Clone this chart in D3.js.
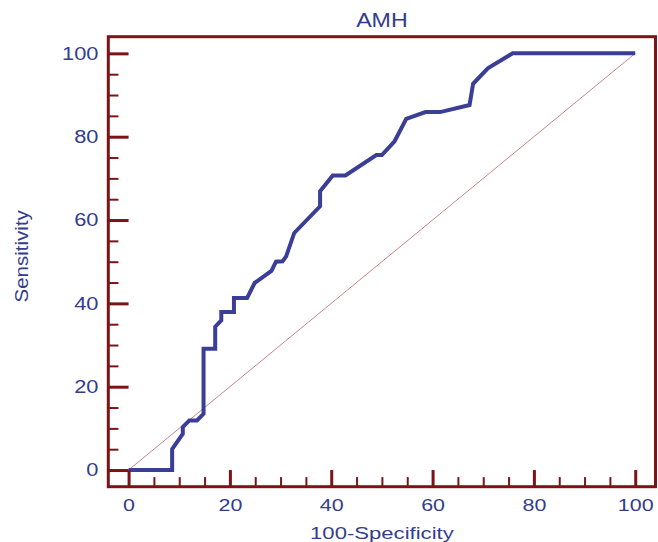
<!DOCTYPE html>
<html>
<head>
<meta charset="utf-8">
<script src="https://cdn.jsdelivr.net/npm/d3@7"></script>
<style>
  html, body { margin: 0; padding: 0; background: #fff; }
  svg { display: block; font-family: "Liberation Sans", Arial, Helvetica, sans-serif; }
</style>
</head>
<body>
<svg id="chart" width="658" height="542"></svg>
<script>
// ROC curve data for AMH (100-Specificity, Sensitivity)
const fpr = [0, 8.6, 8.6, 10.7, 10.7, 12.0, 13.5, 14.8, 14.8, 17.1, 17.1, 18.3, 18.3, 20.8, 20.8, 23.4, 24.9, 28.2, 29.1, 30.4, 31.1, 32.7, 37.8, 37.8, 40.3, 42.8, 48.9, 50.0, 52.5, 54.8, 58.6, 61.5, 67.3, 68.0, 70.9, 75.8, 100];
const tpr = [0, 0, 5.0, 8.7, 10.3, 11.9, 11.9, 13.5, 29.1, 29.1, 34.4, 35.9, 37.9, 37.9, 41.3, 41.3, 44.9, 47.8, 50.0, 50.1, 51.3, 56.9, 63.3, 66.9, 70.7, 70.7, 75.6, 75.6, 78.9, 84.3, 85.9, 85.9, 87.6, 92.7, 96.4, 100, 100];
const majorTicks = [0, 20, 40, 60, 80, 100];
const minorTicks = [5, 10, 15, 25, 30, 35, 45, 50, 55, 65, 70, 75, 85, 90, 95];
const title = "AMH";
const xTitle = "100-Specificity";
const yTitle = "Sensitivity";

const frameCol = "#7b1416";
const textCol = "#343c8c";
const curveCol = "#3a3e97";
const diagCol = "#c98585";

const svg = d3.select("#chart");
const x = d3.scaleLinear().domain([-4, 104]).range([108.3, 655.5]);
const y = d3.scaleLinear().domain([-4, 104]).range([486.7, 36.7]);

// diagonal reference line
svg.append("line")
  .attr("x1", x(0)).attr("y1", y(0))
  .attr("x2", x(100)).attr("y2", y(100))
  .attr("stroke", diagCol).attr("stroke-width", 1);

// ROC curve
const pts = fpr.map((v, i) => [v, tpr[i]]);
svg.append("path")
  .datum(pts)
  .attr("fill", "none")
  .attr("stroke", curveCol)
  .attr("stroke-width", 4)
  .attr("stroke-linejoin", "miter")
  .attr("d", d3.line().x(d => x(d[0])).y(d => y(d[1])));

// Y axis (major + minor) on left frame
const yMajLen = x(0) - x(-4);
const yMinLen = x(-2) - x(-4);
const gyMin = svg.append("g").attr("transform", `translate(${x(-4)},0)`)
  .call(d3.axisLeft(y).tickValues(minorTicks).tickSize(-yMinLen).tickFormat(""));
gyMin.select(".domain").remove();
gyMin.selectAll("line").attr("stroke", frameCol).attr("stroke-width", 2);

const ySx = 1.18;
const gy = svg.append("g").attr("transform", `translate(${x(-4)},0)`)
  .call(d3.axisLeft(y).tickValues(majorTicks).tickSize(-yMajLen).tickPadding(9.8).tickFormat(d3.format("d")));
gy.select(".domain").remove();
gy.selectAll("line").attr("stroke", frameCol).attr("stroke-width", 3);
gy.selectAll("text")
  .attr("fill", textCol).attr("font-size", 18.5)
  .attr("font-family", "Liberation Sans, Arial, sans-serif")
  .attr("x", -9.8 / ySx)
  .attr("transform", `scale(${ySx},1)`);

// X axis (major + minor) on bottom frame
const xMajLen = y(-4) - y(0);
const xMinLen = y(-4) - y(-1.7);
const gxMin = svg.append("g").attr("transform", `translate(0,${y(-4)})`)
  .call(d3.axisBottom(x).tickValues(minorTicks).tickSize(-xMinLen).tickFormat(""));
gxMin.select(".domain").remove();
gxMin.selectAll("line").attr("stroke", frameCol).attr("stroke-width", 2);

const xSx = 1.3;
const gx = svg.append("g").attr("transform", `translate(0,${y(-4)})`)
  .call(d3.axisBottom(x).tickValues(majorTicks).tickSize(-xMajLen).tickPadding(12.5).tickFormat(d3.format("d")));
gx.select(".domain").remove();
gx.selectAll("line").attr("stroke", frameCol).attr("stroke-width", 3);
gx.selectAll("text")
  .attr("fill", textCol).attr("font-size", 16.5)
  .attr("font-family", "Liberation Sans, Arial, sans-serif")
  .attr("transform", `scale(${xSx},1)`);

// frame
svg.append("rect")
  .attr("x", x(-4)).attr("y", y(104))
  .attr("width", x(104) - x(-4)).attr("height", y(-4) - y(104))
  .attr("fill", "none").attr("stroke", frameCol).attr("stroke-width", 3);

// title
svg.append("text")
  .attr("transform", `translate(${x(50)},26.7) scale(1.16,1)`)
  .attr("text-anchor", "middle")
  .attr("font-size", 20).attr("fill", textCol)
  .text(title);

// x axis title
svg.append("text")
  .attr("transform", `translate(${x(50)},538.8) scale(1.3,1)`)
  .attr("text-anchor", "middle")
  .attr("font-size", 17).attr("fill", textCol)
  .text(xTitle);

// y axis title
svg.append("text")
  .attr("transform", `translate(27.7,256.3) rotate(-90) scale(1.14,1)`)
  .attr("text-anchor", "middle")
  .attr("font-size", 18).attr("fill", textCol)
  .text(yTitle);
</script>
</body>
</html>
